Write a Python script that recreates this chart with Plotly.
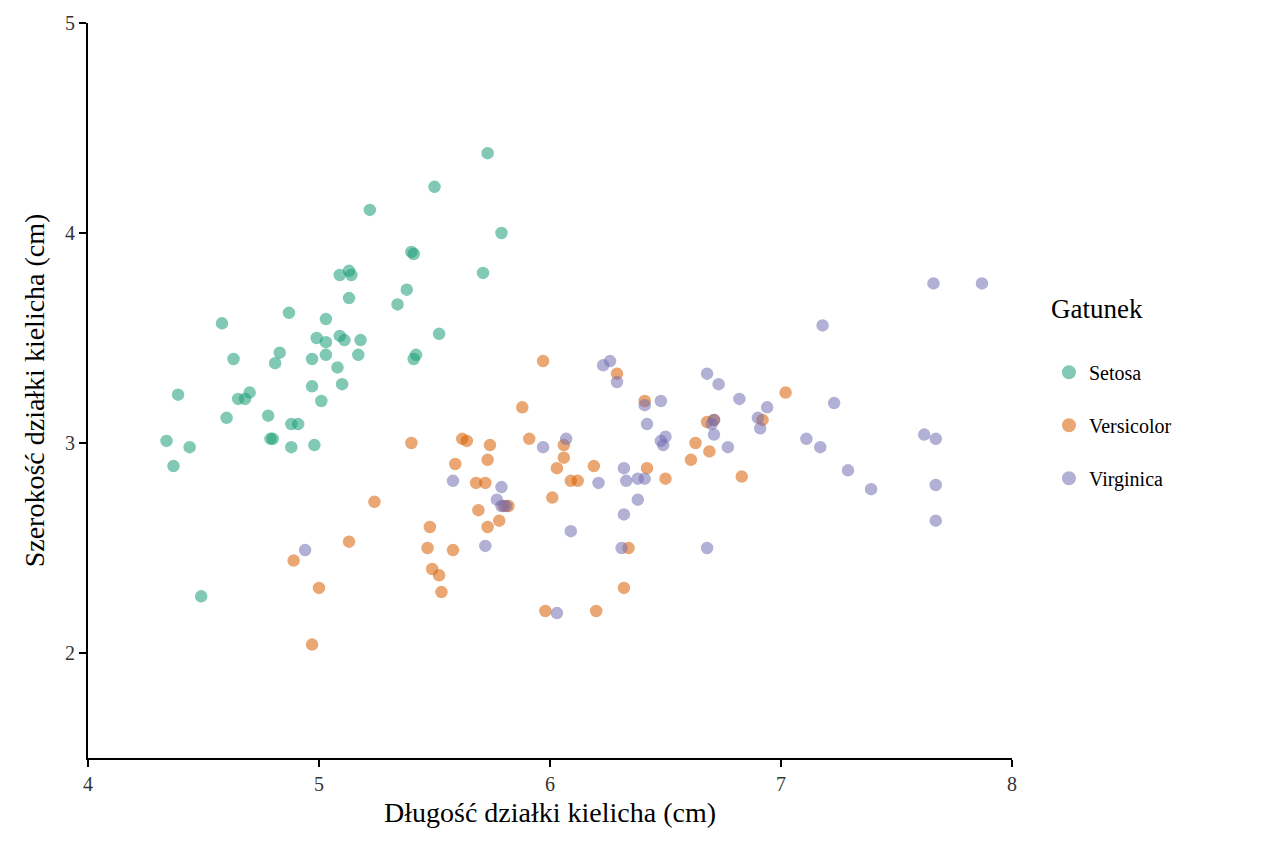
import plotly.graph_objects as go

# Iris (jittered)
setosa_x = [4.34, 4.37, 4.39, 4.44, 4.49, 4.58, 4.60, 4.63, 4.65, 4.68, 4.70, 4.78, 4.79, 4.80, 4.81,
            4.83, 4.87, 4.88, 4.88, 4.91, 4.97, 4.97, 4.98, 4.99, 5.01, 5.03, 5.03, 5.03, 5.08, 5.09,
            5.09, 5.10, 5.11, 5.13, 5.13, 5.14, 5.17, 5.18, 5.22, 5.34, 5.38, 5.40, 5.41, 5.41, 5.42,
            5.50, 5.52, 5.71, 5.73, 5.79]
setosa_y = [3.01, 2.89, 3.23, 2.98, 2.27, 3.57, 3.12, 3.40, 3.21, 3.21, 3.24, 3.13, 3.02, 3.02, 3.38,
            3.43, 3.62, 3.09, 2.98, 3.09, 3.40, 3.27, 2.99, 3.50, 3.20, 3.48, 3.59, 3.42, 3.36, 3.51,
            3.80, 3.28, 3.49, 3.69, 3.82, 3.80, 3.42, 3.49, 4.11, 3.66, 3.73, 3.91, 3.90, 3.40, 3.42,
            4.22, 3.52, 3.81, 4.38, 4.00]

versicolor_x = [4.89, 5.00, 4.97, 5.13, 5.24, 5.40, 5.47, 5.48, 5.49, 5.52, 5.53, 5.58, 5.59, 5.62,
                5.64, 5.68, 5.69, 5.72, 5.73, 5.73, 5.74, 5.78, 5.80, 5.82, 5.88, 5.91, 5.97, 5.98,
                6.01, 6.03, 6.06, 6.06, 6.09, 6.12, 6.19, 6.20, 6.29, 6.32, 6.34, 6.41, 6.42, 6.50,
                6.61, 6.63, 6.68, 6.69, 6.71, 6.83, 6.92, 7.02]
versicolor_y = [2.44, 2.31, 2.04, 2.53, 2.72, 3.00, 2.50, 2.60, 2.40, 2.37, 2.29, 2.49, 2.90, 3.02,
                3.01, 2.81, 2.68, 2.81, 2.60, 2.92, 2.99, 2.63, 2.70, 2.70, 3.17, 3.02, 3.39, 2.20,
                2.74, 2.88, 2.93, 2.99, 2.82, 2.82, 2.89, 2.20, 3.33, 2.31, 2.50, 3.20, 2.88, 2.83,
                2.92, 3.00, 3.10, 2.96, 3.11, 2.84, 3.11, 3.24]

virginica_x = [4.94, 5.58, 5.72, 5.77, 5.79, 5.79, 5.81, 5.97, 6.03, 6.07, 6.09, 6.21, 6.23, 6.26,
               6.29, 6.31, 6.32, 6.32, 6.33, 6.38, 6.38, 6.41, 6.41, 6.42, 6.48, 6.48, 6.49, 6.50,
               6.68, 6.68, 6.70, 6.71, 6.71, 6.73, 6.77, 6.82, 6.90, 6.91, 6.94, 7.11, 7.17, 7.18,
               7.23, 7.29, 7.39, 7.62, 7.66, 7.67, 7.67, 7.67, 7.87]
virginica_y = [2.49, 2.82, 2.51, 2.73, 2.79, 2.70, 2.70, 2.98, 2.19, 3.02, 2.58, 2.81, 3.37, 3.39,
               3.29, 2.50, 2.66, 2.88, 2.82, 2.73, 2.83, 2.83, 3.18, 3.09, 3.20, 3.01, 2.99, 3.03,
               3.33, 2.50, 3.09, 3.11, 3.04, 3.28, 2.98, 3.21, 3.12, 3.07, 3.17, 3.02, 2.98, 3.56,
               3.19, 2.87, 2.78, 3.04, 3.76, 3.02, 2.80, 2.63, 3.76]

species = [("Setosa", setosa_x, setosa_y, "#1b9e77"),
           ("Versicolor", versicolor_x, versicolor_y, "#d95f02"),
           ("Virginica", virginica_x, virginica_y, "#7570b3")]

fig = go.Figure()
for name, xs, ys, col in species:
    fig.add_trace(go.Scatter(x=xs, y=ys, mode="markers", name=name, legendgroup=name,
                             marker=dict(size=11, color=col, opacity=0.55,
                                         line=dict(width=1.5, color=col))))

font = "Liberation Serif, Times New Roman, serif"
axis = dict(showline=True, linecolor="black", linewidth=2, ticks="outside",
            ticklen=7, tickcolor="black", tickwidth=1.5, showgrid=False, zeroline=False,
            automargin=False, tickfont=dict(size=20, color="#333", family=font))
fig.update_layout(
    width=1264, height=843,
    paper_bgcolor="white", plot_bgcolor="white",
    font=dict(family=font, color="black"),
    margin=dict(l=80, r=260, t=15, b=93),
    xaxis=dict(range=[4, 8], dtick=1, title=dict(text="Długość działki kielicha (cm)",
               font=dict(size=28), standoff=8), **axis),
    yaxis=dict(range=[1.5, 5], tickvals=[2, 3, 4, 5], title=dict(text="Szerokość działki kielicha (cm)",
               font=dict(size=28), standoff=12), **axis),
    legend=dict(x=1.04, y=0.5, yanchor="middle", font=dict(size=20),
                title=dict(text="Gatunek<br>", font=dict(size=27)), itemsizing="constant",
                tracegroupgap=24),
)
fig.write_html("out.html")
